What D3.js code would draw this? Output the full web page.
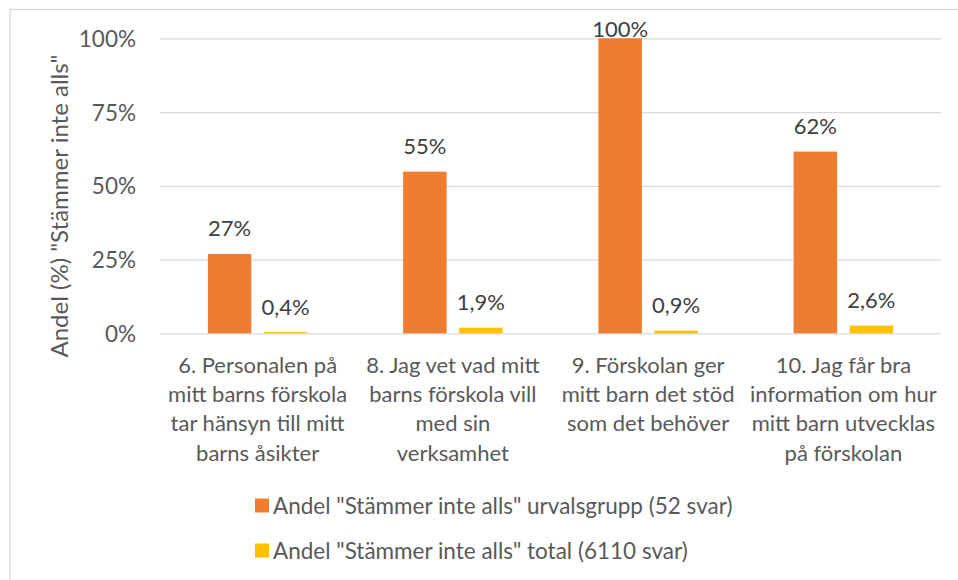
<!DOCTYPE html>
<html>
<head>
<meta charset="utf-8">
<script src="https://cdn.jsdelivr.net/npm/d3@7"></script>
<style>
  html, body { margin: 0; padding: 0; background: #fff; }
  svg text { font-family: Lato, "Open Sans", sans-serif; }
</style>
</head>
<body>
<svg id="chart" width="958" height="580"></svg>
<script>
const categories = [
  "6. Personalen på\nmitt barns förskola\ntar hänsyn till mitt\nbarns åsikter",
  "8. Jag vet vad mitt\nbarns förskola vill\nmed sin\nverksamhet",
  "9. Förskolan ger\nmitt barn det stöd\nsom det behöver",
  "10. Jag får bra\ninformation om hur\nmitt barn utvecklas\npå förskolan"
];
const seriesNames = [
  'Andel "Stämmer inte alls" urvalsgrupp (52 svar)',
  'Andel "Stämmer inte alls" total (6110 svar)'
];
const urvalsgrupp = [26.9, 54.8, 100, 61.6];
const total = [0.4, 1.9, 0.9, 2.6];
const yTicks = [0, 25, 50, 75, 100];
const yTitle = 'Andel (%) "Stämmer inte alls"';
const colors = ["#ED7D31", "#FFC000"];

const svg = d3.select("#chart");
const W = 958, H = 580;
const margin = { left: 160, right: 17, top: 38.3, bottom: 246.7 };
const plotW = W - margin.left - margin.right;
const plotH = H - margin.top - margin.bottom;

// chart border
svg.append("rect").attr("x", 10).attr("y", 9.5).attr("width", 960).attr("height", 600)
  .attr("fill", "none").attr("stroke", "#d9d9d9").attr("stroke-width", 1.3);

const g = svg.append("g").attr("transform", `translate(${margin.left},${margin.top})`);

const x0 = d3.scaleBand().domain(d3.range(categories.length)).range([0, plotW]).paddingInner(0).paddingOuter(0);
const y = d3.scaleLinear().domain([0, 100]).range([plotH, 0]);

// gridlines
const yAxis = d3.axisLeft(y).tickValues(yTicks).tickSize(-plotW).tickFormat(d => d + "%").tickPadding(24);
const ya = g.append("g").call(yAxis);
ya.select(".domain").remove();
ya.selectAll(".tick line").attr("stroke", "#d9d9d9").attr("stroke-width", 1.3);
ya.selectAll(".tick text").attr("fill", "#595959").style("font-size", "22.5px")
  .attr("dy", "0.36em");

// bars
const barW = 43.5, barGap = 12.5;
const series = [urvalsgrupp, total];
const seriesOffset = i => x0.bandwidth() / 2 - (barW * 2 + barGap) / 2 + i * (barW + barGap);
const fmt0 = d3.formatLocale({ decimal: ",", thousands: " ", grouping: [3], currency: ["", ""] });
const labelFormats = [v => fmt0.format(".0f")(v) + "%", v => fmt0.format(".1f")(v) + "%"];

series.forEach((vals, si) => {
  const sg = g.append("g");
  sg.selectAll("rect").data(vals).join("rect")
    .attr("x", (d, i) => x0(i) + seriesOffset(si))
    .attr("y", d => y(d))
    .attr("width", barW)
    .attr("height", d => plotH - y(d))
    .attr("fill", colors[si]);
  sg.selectAll("text").data(vals).join("text")
    .attr("x", (d, i) => x0(i) + seriesOffset(si) + barW / 2)
    .attr("y", d => Math.max(y(d) - 17.5, -1.5))
    .attr("text-anchor", "middle")
    .attr("fill", "#404040")
    .style("font-size", "22px")
    .text(d => labelFormats[si](d));
});

// category labels
const cg = g.append("g").attr("transform", `translate(0,${plotH})`);
categories.forEach((c, i) => {
  const t = cg.append("text")
    .attr("x", x0(i) + x0.bandwidth() / 2)
    .attr("text-anchor", "middle")
    .attr("fill", "#595959")
    .style("font-size", "22px");
  c.split("\n").forEach((line, li) => {
    t.append("tspan").attr("x", x0(i) + x0.bandwidth() / 2).attr("y", 39.5 + li * 29.3).text(line);
  });
});

// y title
svg.append("text")
  .attr("transform", `translate(68,206) rotate(-90)`)
  .attr("text-anchor", "middle")
  .attr("fill", "#595959")
  .style("font-size", "24px")
  .text(yTitle);

// legend
const lg = svg.append("g");
seriesNames.forEach((name, i) => {
  const ly = 505.5 + i * 45;
  lg.append("rect").attr("x", 255).attr("y", ly - 7).attr("width", 14).attr("height", 14).attr("fill", colors[i]);
  lg.append("text").attr("x", 273).attr("y", ly).attr("dy", "0.36em")
    .attr("fill", "#595959").style("font-size", "22.5px").text(name);
});
</script>
</body>
</html>
